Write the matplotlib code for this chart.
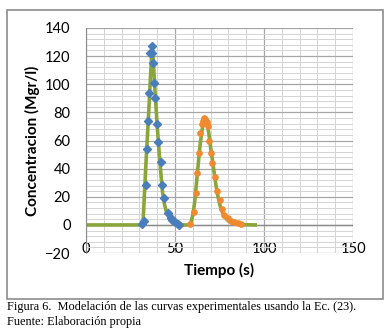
import matplotlib
matplotlib.use('Agg')
import matplotlib.pyplot as plt
from matplotlib.patches import Rectangle
from matplotlib.ticker import MultipleLocator

# experimental points, first injection (blue)
t1 = [31.7, 32.4, 33.6, 34.1, 34.7, 35.6, 36.2, 36.9, 37.3, 37.8, 38.4, 39.0,
      39.9, 40.6, 41.9, 42.9, 44.0, 46.2, 47.5, 48.5, 49.8, 51.5, 52.5]
c1 = [0.5, 3, 28.5, 54, 74, 94, 122, 127.5, 122.5, 115, 101, 90.5,
      71.5, 59, 44.5, 28.5, 19, 8.5, 5, 3.5, 2, 1, 0.3]

# experimental points, second injection (orange)
t2 = [58.3, 60.6, 61.5, 62.5, 63.2, 64.3, 65.0, 65.6, 66.3, 66.9, 67.7, 68.3,
      69.0, 70.3, 71.0, 72.3, 73.6, 75.0, 76.4, 77.7, 79.6, 81.5, 83.3, 85.2, 87.0]
c2 = [1, 9.5, 22.5, 37, 51, 65, 72, 74, 76, 75.5, 73, 70,
      60, 51, 44, 34, 24, 18, 11, 7, 4.7, 3, 2, 1.2, 0.8]

# model curve (green)
tm = [1, 31, 32, 33, 34, 35, 36, 37, 37.5, 38, 39, 40, 41, 42, 43, 44, 45, 46,
      47, 48, 50, 52, 55, 57, 58, 59, 60, 61, 62, 63, 64, 65, 66, 67, 68, 69,
      70, 71, 72, 73, 74, 75, 76, 77, 78, 80, 82, 85, 88, 95]
cm = [0, 0, 1, 27, 52, 75, 100, 125, 124, 112, 90, 70, 53, 37, 23, 15, 10, 7,
      4.5, 3, 1.5, 0.5, 0, 0, 0.5, 2, 7, 16, 29, 43, 56, 66, 73, 76, 72, 65,
      55, 46, 37, 28, 21, 15, 11, 8, 5.5, 2.8, 1.5, 0.6, 0.2, 0]

xticks = [0, 50, 100, 150]
yticks = [-20, 0, 20, 40, 60, 80, 100, 120, 140]

plt.rcParams['font.family'] = ['Lato', 'DejaVu Sans']

fig = plt.figure(figsize=(3.91, 3.33), dpi=100)
fig.patches.append(Rectangle((0.018, 0.102), 0.962, 0.868, transform=fig.transFigure,
                             fill=False, edgecolor='#8c8c8c', lw=1.2))

ax = fig.add_axes([0.22, 0.24, 0.683, 0.676])
ax.set_xlim(0, 150)
ax.set_ylim(-20, 140)
ax.set_xticks(xticks)
ax.set_yticks(yticks)
ax.xaxis.set_minor_locator(MultipleLocator(10))
ax.yaxis.set_minor_locator(MultipleLocator(4))
ax.grid(which='major', color='#a6a6a6', lw=0.9)
ax.grid(which='minor', color='#d4d4d4', lw=0.7)
ax.set_axisbelow(True)
for s in ['top', 'right', 'bottom']:
    ax.spines[s].set_visible(False)
ax.spines['left'].set_color('#8c8c8c')
ax.axhline(0, color='#8c8c8c', lw=1.0, zorder=1)
ax.tick_params(which='both', length=0)
ax.tick_params(axis='x', pad=-8, labelsize=10.5)
ax.tick_params(axis='y', pad=11, labelsize=10.5)

ax.plot(tm, cm, color='#8aa53a', lw=2.6, zorder=2)
ax.plot(t1, c1, 'D', color='#4a7ebb', ms=4.5, zorder=3)
ax.plot(t2, c2, 'o', color='#f08a30', ms=3.8, zorder=3)

ax.set_xlabel('Tiempo (s)', fontsize=11, fontweight='bold', labelpad=4)
ax.set_ylabel('Concentracion (Mgr/l)', fontsize=11, fontweight='bold', labelpad=4)

fig.text(0.018, 0.078, 'Figura 6.  Modelación de las curvas experimentales usando la Ec. (23).',
         family='Liberation Serif', fontsize=8.8, va='center')
fig.text(0.018, 0.032, 'Fuente: Elaboración propia',
         family='Liberation Serif', fontsize=8.8, va='center')

fig.savefig('out.png', dpi=100)
